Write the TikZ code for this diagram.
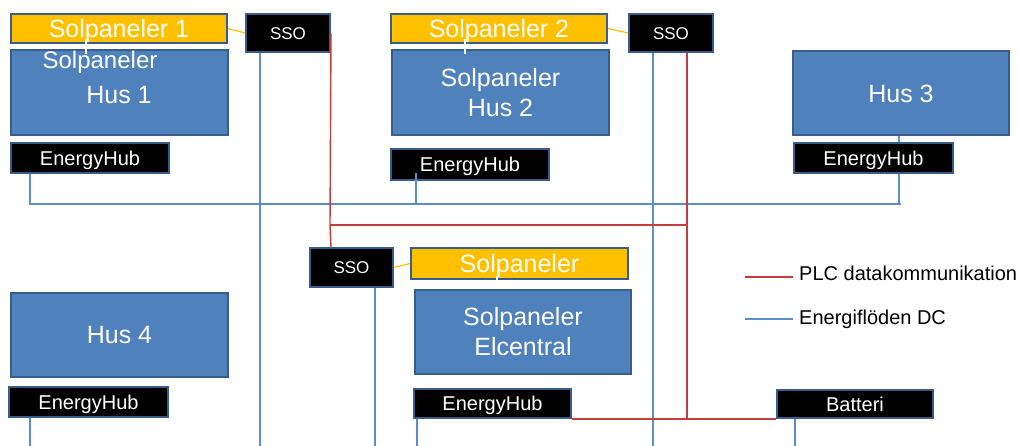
\documentclass[tikz,border=0pt]{standalone}
\usepackage{fontspec}
\setmainfont{Liberation Sans}
\usetikzlibrary{calc}
\definecolor{boxblue}{HTML}{4F81BD}
\definecolor{edgeblue}{HTML}{385D8A}
\definecolor{solyellow}{HTML}{FFC000}
\definecolor{flowblue}{HTML}{5B8CCB}
\definecolor{plcred}{HTML}{C83C3C}
\begin{document}
\begin{tikzpicture}[x=1pt,y=-1pt,
  husbox/.style={draw=edgeblue,line width=2pt,fill=boxblue,text=white,inner sep=0pt,align=center,font=\fontsize{25}{30}\selectfont},
  capfix/.style={text height=#1,text depth=0pt},
  solbox/.style={draw=edgeblue,line width=2pt,fill=solyellow,text=white,inner sep=0pt,font=\fontsize{25}{30}\selectfont,capfix=17.9pt},
  hubbox/.style={draw=edgeblue,line width=2pt,fill=black,text=white,inner sep=0pt,font=\fontsize{20}{24}\selectfont,capfix=14.3pt},
  ssobox/.style={draw=edgeblue,line width=2pt,fill=black,text=white,inner sep=0pt,font=\fontsize{17}{20}\selectfont,capfix=12.2pt},
  flow/.style={draw=flowblue,line width=1.4pt},
  plc/.style={draw=plcred,line width=1.4pt},
  solwire/.style={draw=solyellow,line width=1.2pt},
  whitewire/.style={draw=white,line width=1.6pt},
  legtext/.style={text=black,inner sep=0pt,anchor=west,font=\fontsize{20}{24}\selectfont,capfix=14.3pt}
]
\useasboundingbox (0,0) rectangle (1019,446);

% ---- boxes ----
\node[solbox,minimum width=216,minimum height=29] (sp1) at (119,28.5) {Solpaneler 1};
\node[ssobox,minimum width=84,minimum height=38] (sso1) at (288,33) {SSO};
\node[husbox,minimum width=217,minimum height=85] (hus1) at (119.5,92.5) {};
\node[text=white,inner sep=0pt,font=\fontsize{24}{28}\selectfont,capfix=17.2pt] (hus1a) at (100,60) {Solpaneler};
\node[text=white,inner sep=0pt,font=\fontsize{25}{30}\selectfont,capfix=17.9pt] (hus1b) at (119,95) {Hus 1};
\node[hubbox,minimum width=158,minimum height=30] (eh1) at (90,158) {EnergyHub};

\node[solbox,minimum width=216,minimum height=29] (sp2) at (499,28.5) {Solpaneler 2};
\node[ssobox,minimum width=84,minimum height=38] (sso2) at (671,33) {SSO};
\node[husbox,minimum width=217,minimum height=85] (hus2) at (500.5,92.5) {Solpaneler\\Hus 2};
\node[hubbox,minimum width=158,minimum height=31] (eh2) at (470,164.5) {EnergyHub};

\node[husbox,capfix=17.9pt,minimum width=216,minimum height=84] (hus3) at (901,93.5) {Hus 3};
\node[hubbox,minimum width=159,minimum height=30] (eh3) at (873.5,158) {EnergyHub};

\node[ssobox,minimum width=83,minimum height=39] (sso3) at (351.5,267.5) {SSO};
\node[solbox,minimum width=217,minimum height=31] (spe) at (519.5,263.5) {Solpaneler};
\node[husbox,minimum width=216,minimum height=84] (huse) at (523,332) {Solpaneler\\Elcentral};
\node[hubbox,minimum width=157,minimum height=29] (ehe) at (492.5,403.5) {EnergyHub};
\node[hubbox,minimum width=156,minimum height=28] (bat) at (855,404) {Batteri};

\node[husbox,capfix=17.9pt,minimum width=217,minimum height=84] (hus4) at (119.5,335) {Hus 4};
\node[hubbox,minimum width=159,minimum height=30] (eh4) at (88.5,402) {EnergyHub};

% ---- coordinates ----
\coordinate (bus) at (30,204);
\coordinate (busend) at (901,204);
\coordinate (redmid) at (330,225);
\coordinate (redx) at (687,225);

% ---- solar wires ----
\draw[solwire] (sp1.east) -- (sso1.west);
\draw[solwire] (sp2.east) -- (sso2.west);
\draw[solwire] (sso3.east) -- (spe.west);
\draw[whitewire] ($(sp1.south west)+(76,-5)$) -- ($(hus1.north west)+(76,5)$);
\draw[whitewire] ($(sp2.south west)+(75,-5)$) -- ($(hus2.north west)+(74,5)$);
\draw[whitewire] ($(spe.south west)+(87,-4)$) -- ($(huse.north west)+(83,0)$);

% ---- energy flow (DC) ----
\draw[flow] (eh1.south -| bus) -- (bus) -- (busend);
\draw[flow] ($(eh2.south west)+(26,-8)$) -- ($(eh2.south west)+(26,24)$);
\draw[flow] (hus3.south -| 899,0) -- (eh3.north -| 899,0);
\draw[flow] (eh3.south -| 899,0) -- (899,204);
\draw[flow] (sso1.south -| 260,0) -- (260,446);
\draw[flow] (sso2.south -| 653,0) -- (653,446);
\draw[flow] (sso3.south -| 375,0) -- (375,446);
\draw[flow] (ehe.south -| 417,0) -- (417,446);
\draw[flow] (bat.south -| 795,0) -- (795,446);
\draw[flow] (eh4.south -| 30,0) -- (30,446);

% ---- PLC data ----
\draw[plc] (sso1.east) -- (redmid) -- (sso1.east |- sso3.north);
\draw[plc] (redmid) -- (redx);
\draw[plc] (sso2.south -| redx) -- (redx |- bat.south);
\draw[plc] (ehe.south east) -- (bat.south west);

% ---- legend ----
\coordinate (lr1) at (745,277);
\coordinate (lr2) at (793,277);
\coordinate (lb1) at (745,319);
\coordinate (lb2) at (793,319);
\draw[plc] (lr1) -- (lr2);
\draw[flow] (lb1) -- (lb2);
\node[legtext] (legplc) at (799,273.5) {PLC datakommunikation};
\node[legtext] (legdc) at (799,317) {Energiflöden DC};
\end{tikzpicture}
\end{document}
